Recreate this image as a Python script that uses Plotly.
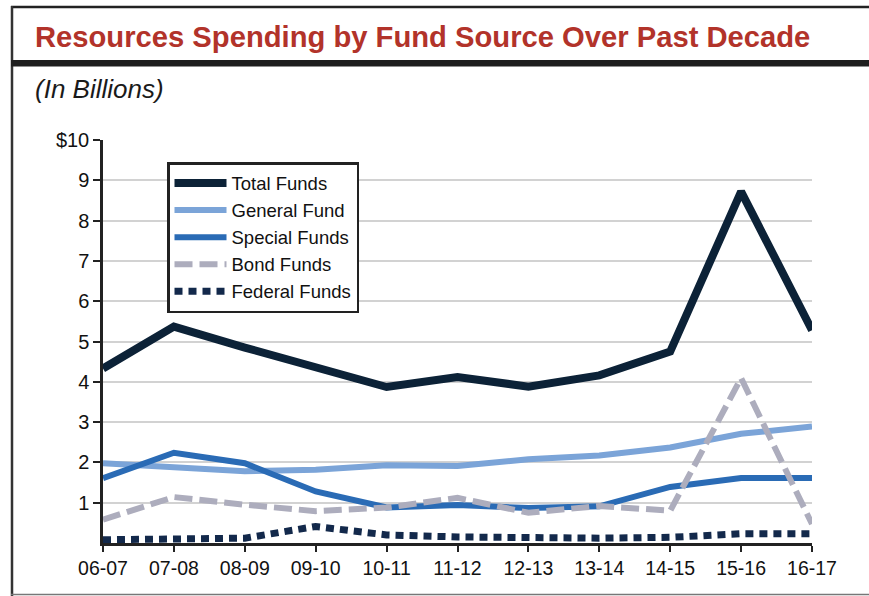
import plotly.graph_objects as go

years = ["06-07", "07-08", "08-09", "09-10", "10-11", "11-12",
         "12-13", "13-14", "14-15", "15-16", "16-17"]
total_funds = [4.33, 5.37, 4.85, 4.37, 3.87, 4.12, 3.88, 4.16, 4.75, 8.72, 5.28]
general_fund = [1.98, 1.88, 1.78, 1.82, 1.93, 1.91, 2.08, 2.17, 2.37, 2.71, 2.89]
special_funds = [1.61, 2.24, 1.98, 1.28, 0.88, 0.94, 0.87, 0.91, 1.39, 1.61, 1.61]
bond_funds = [0.58, 1.14, 0.95, 0.79, 0.88, 1.12, 0.75, 0.92, 0.80, 4.09, 0.47]
federal_funds = [0.08, 0.09, 0.12, 0.41, 0.20, 0.15, 0.13, 0.12, 0.14, 0.23, 0.23]
y_tick_vals = [1, 2, 3, 4, 5, 6, 7, 8, 9, 10]
y_tick_text = ["1", "2", "3", "4", "5", "6", "7", "8", "9", "$10"]

W, H = 869, 596
L, R, T, B = 103, 57, 140, 53
PW, PH = W - L - R, H - T - B


def px(x):
    return (x - L) / PW


def py(y):
    return (H - B - y) / PH


FONT = "Liberation Sans, Arial, Helvetica, sans-serif"

series = [
    ("Total Funds", total_funds, "#0C2237", 8, "solid"),
    ("General Fund", general_fund, "#7BA4D8", 6, "solid"),
    ("Special Funds", special_funds, "#2A6BB5", 6, "solid"),
    ("Bond Funds", bond_funds, "#ADADBD", 6, "18px,7px"),
    ("Federal Funds", federal_funds, "#13294B", 7, "8px,6px"),
]

fig = go.Figure()
for name, vals, color, width, dash in series:
    fig.add_trace(go.Scatter(
        x=years, y=vals, name=name, mode="lines",
        line=dict(color=color, width=width, dash=dash),
    ))

fig.update_layout(
    width=W, height=H,
    margin=dict(l=L, r=R, t=T, b=B),
    paper_bgcolor="white", plot_bgcolor="white",
    font=dict(family=FONT, color="#111111", size=19),
    showlegend=True,
    legend=dict(
        x=px(167), y=py(162), xanchor="left", yanchor="top",
        bgcolor="white", bordercolor="#222222", borderwidth=2.5,
        font=dict(family=FONT, size=18.5, color="#111111"),
        itemwidth=52,
    ),
    xaxis=dict(
        type="category", range=[0, 10],
        showgrid=False, showline=True, linecolor="#222222", linewidth=2.5,
        ticks="outside", ticklen=6, tickwidth=2, tickcolor="#222222",
        tickfont=dict(size=19.5, color="#111111"),
        zeroline=False, fixedrange=True,
    ),
    yaxis=dict(
        range=[0, 10], tickvals=y_tick_vals, ticktext=y_tick_text,
        showgrid=True, gridcolor="#D2D2D2", gridwidth=1.5,
        showline=True, linecolor="#222222", linewidth=2.5,
        ticks="outside", ticklen=7, tickwidth=2, tickcolor="#222222",
        tickfont=dict(size=20, color="#111111"),
        zeroline=False, fixedrange=True,
    ),
    shapes=[
        # outer frame: top, left, bottom
        dict(type="line", xref="paper", yref="paper",
             x0=px(11), x1=px(869), y0=py(7), y1=py(7),
             line=dict(color="#222222", width=2.5)),
        dict(type="line", xref="paper", yref="paper",
             x0=px(12), x1=px(12), y0=py(6), y1=py(596),
             line=dict(color="#333333", width=2.5)),
        dict(type="line", xref="paper", yref="paper",
             x0=px(11), x1=px(869), y0=py(594.5), y1=py(594.5),
             line=dict(color="#777777", width=1.5)),
        # title bar
        dict(type="rect", xref="paper", yref="paper",
             x0=px(11), x1=px(869), y0=py(60), y1=py(66.5),
             fillcolor="#1E1E1E", line=dict(width=0)),
    ],
    annotations=[
        dict(text="<b>Resources Spending by Fund Source Over Past Decade</b>",
             xref="paper", yref="paper", x=px(33), y=py(37),
             xanchor="left", yanchor="middle", showarrow=False,
             font=dict(family=FONT, size=29.2, color="#B2332A")),
        dict(text="<i>(In Billions)</i>",
             xref="paper", yref="paper", x=px(33), y=py(89),
             xanchor="left", yanchor="middle", showarrow=False,
             font=dict(family=FONT, size=26, color="#1A1A1A")),
    ],
)

fig.write_html("out.html")
